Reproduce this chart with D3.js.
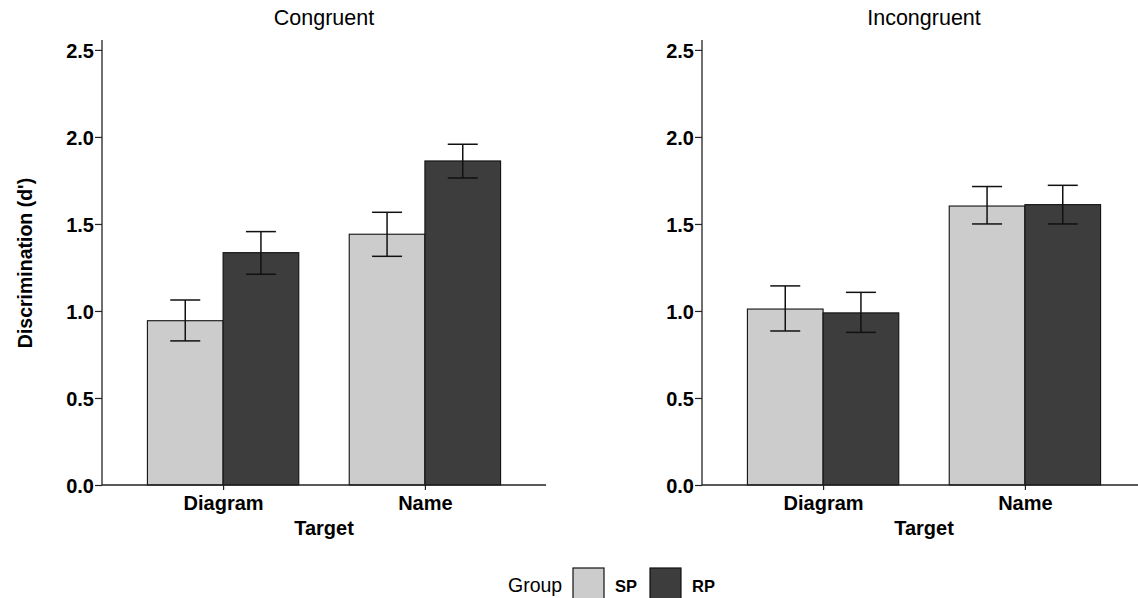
<!DOCTYPE html>
<html>
<head>
<meta charset="utf-8">
<script src="https://cdn.jsdelivr.net/npm/d3@7"></script>
<style>
  body { margin: 0; background: #fff; overflow: hidden; }
  text { font-family: "Liberation Sans", Arial, sans-serif; }
</style>
</head>
<body>
<svg id="chart"></svg>
<script>
// data
const panels = ['Congruent', 'Incongruent'];
const targets = ['Diagram', 'Name'];
const groups = ['SP', 'RP'];
const groupColors = ['#cccccc', '#3d3d3d'];
const yTicks = [0, 0.5, 1.0, 1.5, 2.0, 2.5];

// mean d' per panel, per target, per group (SP, RP)
const congruentMeans = [[0.944, 1.335], [1.441, 1.862]];
const incongruentMeans = [[1.011, 0.989], [1.603, 1.611]];
// error bar bounds [low, high]
const congruentErr = [[[0.828, 1.063], [1.211, 1.456]], [[1.314, 1.567], [1.764, 1.958]]];
const incongruentErr = [[[0.885, 1.144], [0.877, 1.107]], [[1.500, 1.715], [1.500, 1.722]]];

const means = [congruentMeans, incongruentMeans];
const errs = [congruentErr, incongruentErr];

const width = 1138, height = 598;
const svg = d3.select('#chart')
    .attr('width', width)
    .attr('height', height);

const plotTop = 40, plotBottom = 485;
const panelX = [102, 702];
const panelW = 444;

const yScale = d3.scaleLinear()
    .domain([0, 2.557])
    .range([plotBottom, plotTop]);

// discrete axis with ggplot-like 0.6 expansion on each side
const xScale = d3.scalePoint()
    .domain(targets)
    .range([panelW * 0.6 / 2.2, panelW * 1.6 / 2.2]);
const step = panelW / 2.2;
const dodge = d3.scaleBand()
    .domain(groups)
    .range([-step * 0.375, step * 0.375]);

panels.forEach((name, p) => {
  const g = svg.append('g')
      .attr('transform', `translate(${panelX[p]},0)`);

  const rows = [];
  targets.forEach((t, i) => {
    groups.forEach((gr, j) => {
      rows.push({target: t, group: gr, gi: j, v: means[p][i][j], lo: errs[p][i][j][0], hi: errs[p][i][j][1]});
    });
  });
  const barX = d => xScale(d.target) + dodge(d.group);
  const barMid = d => barX(d) + dodge.bandwidth() / 2;

  g.selectAll('rect.bar')
    .data(rows)
    .join('rect')
      .attr('class', 'bar')
      .attr('x', barX)
      .attr('y', d => yScale(d.v))
      .attr('width', dodge.bandwidth())
      .attr('height', d => yScale(0) - yScale(d.v))
      .attr('fill', d => groupColors[d.gi])
      .attr('stroke', '#111')
      .attr('stroke-width', 1.1);

  // error bars
  const ew = 15;
  const eb = g.selectAll('g.err')
    .data(rows)
    .join('g')
      .attr('class', 'err')
      .attr('stroke', '#111')
      .attr('stroke-width', 1.5);
  eb.append('line')
      .attr('x1', barMid)
      .attr('x2', barMid)
      .attr('y1', d => yScale(d.lo))
      .attr('y2', d => yScale(d.hi));
  ['lo', 'hi'].forEach(k => {
    eb.append('line')
        .attr('x1', d => barMid(d) - ew)
        .attr('x2', d => barMid(d) + ew)
        .attr('y1', d => yScale(d[k]))
        .attr('y2', d => yScale(d[k]));
  });

  // y axis
  const yAxisG = g.append('g')
      .call(d3.axisLeft(yScale).tickValues(yTicks).tickFormat(d3.format('.1f')).tickSize(7).tickSizeOuter(0));
  yAxisG.select('.domain').attr('stroke', '#222').attr('stroke-width', 1.3).attr('d', `M0,${plotTop}V${plotBottom}`);
  yAxisG.selectAll('.tick line').attr('stroke', '#222').attr('stroke-width', 1.2);
  yAxisG.selectAll('.tick text')
      .attr('x', -8)
      .attr('dy', '0.36em')
      .attr('fill', '#000')
      .style('font-size', '20px')
      .style('font-weight', 'bold')
      .style('font-family', '"Liberation Sans", Arial, sans-serif');

  // x axis
  const xAxisG = g.append('g')
      .attr('transform', `translate(0,${plotBottom})`)
      .call(d3.axisBottom(xScale).tickSize(5).tickSizeOuter(0));
  xAxisG.select('.domain').attr('stroke', '#222').attr('stroke-width', 1.3).attr('d', `M0,0H${panelW}`);
  xAxisG.selectAll('.tick line').attr('stroke', '#222').attr('stroke-width', 1.2);
  xAxisG.selectAll('.tick text')
      .attr('y', 11)
      .attr('fill', '#000')
      .style('font-size', '20px')
      .style('font-weight', 'bold')
      .style('font-family', '"Liberation Sans", Arial, sans-serif');
  xAxisG.append('text')
      .attr('x', panelW / 2)
      .attr('y', 50)
      .attr('text-anchor', 'middle')
      .attr('fill', '#000')
      .style('font-size', '20px')
      .style('font-weight', 'bold')
      .text('Target');

  // panel title
  g.append('text')
      .attr('x', panelW / 2)
      .attr('y', 25)
      .attr('text-anchor', 'middle')
      .attr('fill', '#000')
      .style('font-size', '21.5px')
      .text(name);
});

// y axis title
svg.append('text')
    .attr('transform', `translate(32,263) rotate(-90)`)
    .attr('text-anchor', 'middle')
    .attr('fill', '#000')
    .style('font-size', '19.5px')
    .style('font-weight', 'bold')
    .text("Discrimination (d')");

// legend
const legend = svg.append('g');
legend.append('text')
    .attr('x', 508)
    .attr('y', 592)
    .attr('fill', '#000')
    .style('font-size', '19.5px')
    .text('Group');
const keyX = [573, 650];
groups.forEach((gr, i) => {
  legend.append('rect')
      .attr('x', keyX[i])
      .attr('y', 568)
      .attr('width', 31)
      .attr('height', 31)
      .attr('fill', groupColors[i])
      .attr('stroke', '#111')
      .attr('stroke-width', 1.2);
  legend.append('text')
      .attr('x', keyX[i] + 42)
      .attr('y', 592)
      .attr('fill', '#000')
      .style('font-size', '16.5px')
      .style('font-weight', 'bold')
      .text(gr);
});
</script>
</body>
</html>
